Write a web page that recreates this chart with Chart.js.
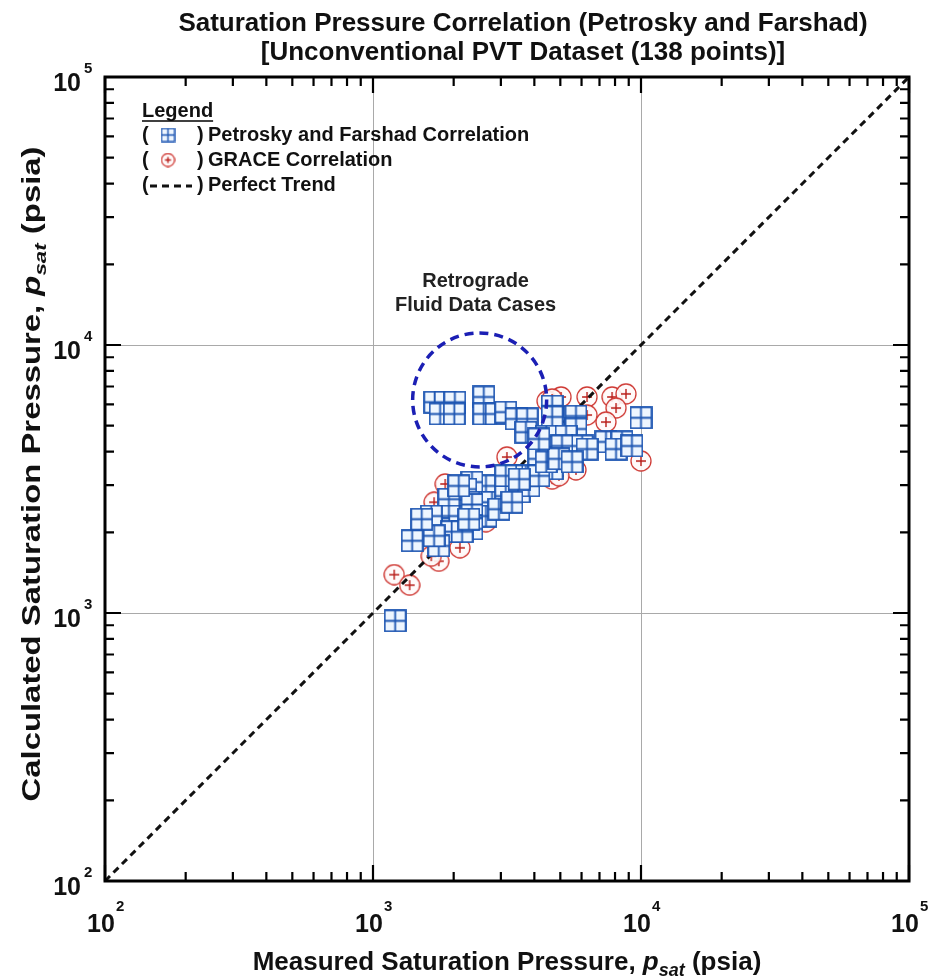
<!DOCTYPE html>
<html>
<head>
<meta charset="utf-8">
<title>Saturation Pressure Correlation</title>
<script src="https://cdn.jsdelivr.net/npm/chart.js@4.4.0/dist/chart.umd.min.js"></script>
<style>
  body { margin: 0; background: #fff; }
</style>
</head>
<body>
<canvas id="satChart" width="935" height="980"></canvas>
<script>
// Petrosky and Farshad correlation: measured vs calculated psat (psia)
var pfMeasured = [1210, 1700, 1860, 2020, 1780, 2010, 2590, 2590, 2880, 3130, 3420, 3760, 3720, 4660, 4660, 5720, 5720, 10000,
  4430, 5250, 6030, 7400, 8490, 8070, 6290, 4160, 4660, 3720, 3300, 2950, 2640, 2340, 2220, 2490, 2780, 3130, 3510, 3820,
  2640, 2340, 2090, 1920, 1920, 1760, 1660, 1650, 1970, 2340, 1760, 1400, 2340, 3300, 4160, 4430, 1690, 2150, 2280, 2950,
  3300, 5070, 4940, 5530, 9250, 3130, 3510, 4160, 2090, 1520];
var pfCalculated = [935, 6120, 6120, 6120, 5530, 5530, 6400, 5530, 5530, 5620, 5300, 5300, 4730, 5920, 5390, 5430, 4860, 5350,
  4570, 4570, 4200, 4350, 4350, 4090, 4090, 3760, 3450, 3250, 3110, 2900, 2980, 3080, 2900, 2590, 2590, 2730, 2830, 2980,
  2300, 2300, 2300, 2660, 2300, 2060, 2060, 2300, 2010, 2060, 1780, 1860, 2540, 3250, 3250, 3660, 1940, 2010, 2240, 2440,
  2590, 4200, 3760, 3660, 4200, 3250, 3160, 4460, 2980, 2240];

// GRACE correlation (only the markers that show from behind the squares)
var graceMeasured = [1200, 1370, 1760, 2110, 1860, 1690, 2640, 4660, 5720, 10000, 5030, 6290, 7800, 8790, 8070, 7400, 6290,
  4460, 3160, 4940, 1650, 4660];
var graceCalculated = [1390, 1270, 1560, 1750, 3030, 2590, 2190, 3160, 3420, 3690, 6400, 6400, 6400, 6570, 5820, 5160, 5480,
  6180, 3820, 3250, 1630, 6290];

// perfect trend y = x
var trendValues = [100, 100000];

// decade ticks and their exponent labels
var decadeTicks = [100, 1000, 10000, 100000];
var decadeExponents = ["2", "3", "4", "5"];
var minorSteps = [2, 3, 4, 5, 6, 7, 8, 9];

// retrograde fluid note
var retroCenter = { x: 2500, y: 6240 };
var retroRadiusDecades = 0.25;
var retroLines = ["Retrograde", "Fluid Data Cases"];
var retroTextValues = [17300, 14000];

var FONT = '"Liberation Sans", Arial, sans-serif';

// square marker with the cross inside
function makeSquareMarker(size, lw) {
  var c = document.createElement("canvas");
  c.width = size + 2;
  c.height = size + 2;
  var g = c.getContext("2d");
  var a = 1, b = size + 1, m = (size + 2) / 2;
  g.fillStyle = "#eef6ff";
  g.fillRect(a, a, size, size);
  g.strokeStyle = "#1c55b2";
  g.lineWidth = lw;
  g.strokeRect(a, a, size, size);
  g.beginPath();
  g.moveTo(m, a); g.lineTo(m, b);
  g.moveTo(a, m); g.lineTo(b, m);
  g.stroke();
  return c;
}

// circle marker with the plus inside
function makeCircleMarker(size, plus) {
  var c = document.createElement("canvas");
  c.width = size + 2;
  c.height = size + 2;
  var g = c.getContext("2d");
  var m = (size + 2) / 2;
  g.beginPath();
  g.arc(m, m, size / 2, 0, Math.PI * 2);
  g.fillStyle = "rgba(255,250,250,0.9)";
  g.fill();
  g.strokeStyle = "#cf3a35";
  g.lineWidth = 1.3;
  g.stroke();
  g.beginPath();
  g.moveTo(m - plus, m); g.lineTo(m + plus, m);
  g.moveTo(m, m - plus); g.lineTo(m, m + plus);
  g.strokeStyle = "#b81c18";
  g.lineWidth = 1.4;
  g.stroke();
  return c;
}

var squareMarker = makeSquareMarker(21, 1.8);
var circleMarker = makeCircleMarker(20, 5);
var squareSmall = makeSquareMarker(13, 1.4);
var circleSmall = makeCircleMarker(13, 3);

// width of pre + p_sat + post
function psatWidth(ctx, pre, post, size) {
  ctx.font = "bold " + size + "px " + FONT;
  var w = ctx.measureText(pre).width + ctx.measureText(post).width;
  ctx.font = "italic bold " + size + "px " + FONT;
  w += ctx.measureText("p").width;
  ctx.font = "italic bold " + Math.round(size * 0.68) + "px " + FONT;
  w += ctx.measureText("sat").width;
  return w;
}

function drawPsat(ctx, pre, post, x, y, size) {
  ctx.textAlign = "left";
  ctx.textBaseline = "alphabetic";
  ctx.font = "bold " + size + "px " + FONT;
  ctx.fillText(pre, x, y);
  x += ctx.measureText(pre).width;
  ctx.font = "italic bold " + size + "px " + FONT;
  ctx.fillText("p", x, y);
  x += ctx.measureText("p").width;
  ctx.font = "italic bold " + Math.round(size * 0.68) + "px " + FONT;
  ctx.fillText("sat", x, y + size * 0.22);
  x += ctx.measureText("sat").width;
  ctx.font = "bold " + size + "px " + FONT;
  ctx.fillText(post, x, y);
}

var decorPlugin = {
  id: "decor",
  afterDatasetsDraw: function (chart) {
    var ctx = chart.ctx;
    var xs = chart.scales.x, ys = chart.scales.y;

    // retrograde dashed circle
    var cx = xs.getPixelForValue(retroCenter.x);
    var cy = ys.getPixelForValue(retroCenter.y);
    var r = xs.getPixelForValue(retroCenter.x * Math.pow(10, retroRadiusDecades)) - cx;
    ctx.save();
    ctx.strokeStyle = "#1b1fb4";
    ctx.lineWidth = 3.5;
    ctx.setLineDash([9, 6]);
    ctx.beginPath();
    ctx.arc(cx, cy, r, 0, Math.PI * 2);
    ctx.stroke();
    ctx.setLineDash([]);
    ctx.fillStyle = "#222";
    ctx.font = "bold 20px " + FONT;
    ctx.textAlign = "center";
    ctx.textBaseline = "middle";
    for (var i = 0; i < retroLines.length; i++) {
      ctx.fillText(retroLines[i], cx - 4, ys.getPixelForValue(retroTextValues[i]));
    }
    ctx.restore();
  },
  afterDraw: function (chart) {
    var ctx = chart.ctx;
    var xs = chart.scales.x, ys = chart.scales.y;
    var a = chart.chartArea;
    ctx.save();

    // frame
    ctx.strokeStyle = "#000";
    ctx.lineWidth = 3;
    ctx.strokeRect(a.left, a.top, a.right - a.left, a.bottom - a.top);

    // inward tick marks on all four sides
    ctx.lineWidth = 2.2;
    ctx.beginPath();
    for (var d = 0; d < decadeTicks.length; d++) {
      var vals = [{ v: decadeTicks[d], len: 16 }];
      if (d < decadeTicks.length - 1) {
        for (var m = 0; m < minorSteps.length; m++) vals.push({ v: decadeTicks[d] * minorSteps[m], len: 9 });
      }
      for (var k = 0; k < vals.length; k++) {
        var px = xs.getPixelForValue(vals[k].v);
        var py = ys.getPixelForValue(vals[k].v);
        var L = vals[k].len;
        ctx.moveTo(px, a.bottom); ctx.lineTo(px, a.bottom - L);
        ctx.moveTo(px, a.top); ctx.lineTo(px, a.top + L);
        ctx.moveTo(a.left, py); ctx.lineTo(a.left + L, py);
        ctx.moveTo(a.right, py); ctx.lineTo(a.right - L, py);
      }
    }
    ctx.stroke();

    // tick labels 10^n
    ctx.fillStyle = "#111";
    for (var t = 0; t < decadeTicks.length; t++) {
      var tx = xs.getPixelForValue(decadeTicks[t]);
      ctx.font = "bold 25px " + FONT;
      ctx.textAlign = "center";
      ctx.textBaseline = "alphabetic";
      ctx.fillText("10", tx - 4, a.bottom + 51);
      ctx.font = "bold 15px " + FONT;
      ctx.textAlign = "left";
      ctx.fillText(decadeExponents[t], tx + 11, a.bottom + 30);

      var ty = ys.getPixelForValue(decadeTicks[t]);
      ctx.font = "bold 25px " + FONT;
      ctx.textAlign = "right";
      ctx.fillText("10", 81, ty + 14);
      ctx.font = "bold 15px " + FONT;
      ctx.textAlign = "left";
      ctx.fillText(decadeExponents[t], 84, ty - 4);
    }

    // title
    ctx.fillStyle = "#111";
    ctx.font = "bold 26px " + FONT;
    ctx.textAlign = "center";
    ctx.fillText("Saturation Pressure Correlation (Petrosky and Farshad)", 523, 31);
    ctx.fillText("[Unconventional PVT Dataset (138 points)]", 523, 60);

    // x axis title
    var xw = psatWidth(ctx, "Measured Saturation Pressure, ", " (psia)", 26);
    drawPsat(ctx, "Measured Saturation Pressure, ", " (psia)", 507 - xw / 2, 970, 26);

    // y axis title, stretched along its length like the reference
    var yw = psatWidth(ctx, "Calculated Saturation Pressure, ", " (psia)", 25);
    ctx.save();
    ctx.translate(40, 474);
    ctx.rotate(-Math.PI / 2);
    ctx.scale(655 / yw, 1);
    drawPsat(ctx, "Calculated Saturation Pressure, ", " (psia)", -yw / 2, 0, 25);
    ctx.restore();

    // legend
    ctx.fillStyle = "#111";
    ctx.font = "bold 20px " + FONT;
    ctx.textAlign = "left";
    ctx.textBaseline = "alphabetic";
    ctx.fillText("Legend", 142, 117);
    var lw = ctx.measureText("Legend").width;
    ctx.lineWidth = 1.5;
    ctx.beginPath();
    ctx.moveTo(142, 121); ctx.lineTo(142 + lw, 121);
    ctx.stroke();

    var rows = chart.data.datasets.map(function (ds) { return ds.label; });
    var markers = [squareSmall, null, circleSmall];
    var order = [0, 2, 1];
    for (var i = 0; i < order.length; i++) {
      var idx = order[i];
      var yc = 135 + 25 * i;
      ctx.font = "bold 20px " + FONT;
      ctx.fillStyle = "#111";
      ctx.textBaseline = "middle";
      ctx.fillText("(", 142, yc);
      ctx.fillText(")", 197, yc);
      ctx.fillText(rows[idx], 208, yc);
      if (markers[idx]) {
        ctx.drawImage(markers[idx], 168 - markers[idx].width / 2, yc - markers[idx].height / 2);
      } else {
        ctx.strokeStyle = "#111";
        ctx.lineWidth = 3;
        ctx.setLineDash([7, 5]);
        ctx.beginPath();
        ctx.moveTo(150, yc + 1); ctx.lineTo(192, yc + 1);
        ctx.stroke();
        ctx.setLineDash([]);
      }
    }
    ctx.restore();
  }
};

function onlyDecades(axis) {
  axis.ticks = decadeTicks.map(function (v) { return { value: v }; });
}

var ctx = document.getElementById("satChart").getContext("2d");
var satChart = new Chart(ctx, {
  type: "scatter",
  data: {
    datasets: [
      {
        label: "Petrosky and Farshad Correlation",
        data: pfMeasured.map(function (x, i) { return { x: x, y: pfCalculated[i] }; }),
        pointStyle: squareMarker,
        pointRadius: 11,
        order: 0
      },
      {
        label: "Perfect Trend",
        data: trendValues.map(function (v) { return { x: v, y: v }; }),
        showLine: true,
        borderColor: "#111",
        borderWidth: 3,
        borderDash: [7, 5],
        pointRadius: 0,
        order: 1
      },
      {
        label: "GRACE Correlation",
        data: graceMeasured.map(function (x, i) { return { x: x, y: graceCalculated[i] }; }),
        pointStyle: circleMarker,
        pointRadius: 10,
        order: 2
      }
    ]
  },
  options: {
    responsive: false,
    animation: false,
    layout: { padding: { left: 105, top: 77, right: 26, bottom: 99 } },
    plugins: {
      legend: { display: false },
      tooltip: { enabled: false }
    },
    scales: {
      x: {
        type: "logarithmic",
        min: 100,
        max: 100000,
        afterBuildTicks: onlyDecades,
        ticks: { display: false },
        grid: { color: "#a9a9a9", lineWidth: 1, drawTicks: false },
        border: { display: false }
      },
      y: {
        type: "logarithmic",
        min: 100,
        max: 100000,
        afterBuildTicks: onlyDecades,
        ticks: { display: false },
        grid: { color: "#a9a9a9", lineWidth: 1, drawTicks: false },
        border: { display: false }
      }
    }
  },
  plugins: [decorPlugin]
});
</script>
</body>
</html>
